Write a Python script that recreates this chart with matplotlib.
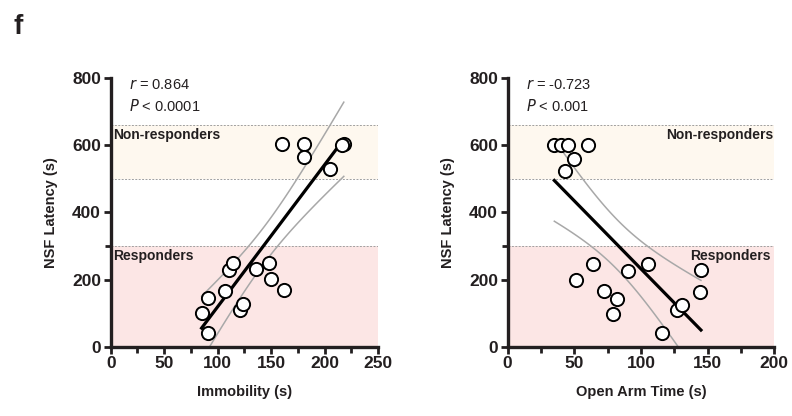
import matplotlib.pyplot as plt
import numpy as np

plt.rcParams['font.family'] = ['Liberation Sans', 'DejaVu Sans']

# NSF latency vs immobility (left) and open arm time (right)
immobility = [85, 91, 91, 107, 111, 114, 121, 124, 136, 148, 150, 162,
              160, 181, 181, 218, 205, 216]
latency_l = [100, 40, 144, 167, 229, 249, 110, 127, 232, 249, 201, 169,
             604, 604, 565, 604, 530, 600]

open_arm = [35, 40, 45, 60, 50, 43, 51, 64, 72, 82, 79, 90, 105, 116,
            127, 131, 145, 144]
latency_r = [600, 600, 600, 600, 560, 522, 198, 246, 166, 142, 98, 226,
             246, 40, 110, 125, 227, 164]

stats_l = ['0.864', '0.0001']
stats_r = ['-0.723', '0.001']

dark = '#231f20'


def fit_with_ci(x, y):
    x = np.asarray(x, float)
    y = np.asarray(y, float)
    n = len(x)
    b, a = np.polyfit(x, y, 1)
    res = y - (a + b * x)
    s = np.sqrt(np.sum(res ** 2) / (n - 2))
    sxx = np.sum((x - x.mean()) ** 2)
    xs = np.linspace(x.min(), x.max(), 100)
    yh = a + b * xs
    t = 2.12  # t(0.975, df=16)
    h = t * s * np.sqrt(1.0 / n + (xs - x.mean()) ** 2 / sxx)
    return xs, yh, yh - h, yh + h


def panel(ax, x, y, xmax, xlabel, stats, label_right):
    ax.axhspan(500, 660, color='#fef8ef', zorder=0, lw=0)
    ax.axhspan(0, 300, color='#fce6e5', zorder=0, lw=0)
    for yy in (500, 660, 300):
        ax.axhline(yy, color='#a0a0a0', lw=0.7, ls=(0, (2, 1.5)), zorder=1)

    xs, yh, lo, hi = fit_with_ci(x, y)
    ax.plot(xs, lo, color='#a8a8a8', lw=1.1, zorder=2)
    ax.plot(xs, hi, color='#a8a8a8', lw=1.1, zorder=2)
    ax.plot(xs, yh, color='black', lw=2.3, zorder=3)
    ax.plot(x, y, 'o', ms=9.5, mfc='white', mec='black', mew=1.4,
            zorder=4, clip_on=False)

    ax.set_xlim(0, xmax)
    ax.set_ylim(0, 800)
    ax.set_xticks(np.arange(0, xmax + 1, 50))
    ax.set_xticks(np.arange(25, xmax, 50), minor=True)
    ax.set_yticks([0, 200, 400, 600, 800])
    ax.set_yticks([300], minor=True)
    ax.tick_params(which='both', width=2, color=dark, length=5,
                   labelsize=12.5, labelcolor=dark, pad=2)
    ax.tick_params(which='minor', length=4)
    for lab in ax.get_xticklabels() + ax.get_yticklabels():
        lab.set_fontweight('bold')
    for side in ('top', 'right'):
        ax.spines[side].set_visible(False)
    for side in ('left', 'bottom'):
        ax.spines[side].set_linewidth(2.4)
        ax.spines[side].set_color(dark)
    ax.set_xlabel(xlabel, fontsize=10.5, fontweight='bold', color=dark,
                  labelpad=10)
    ax.set_ylabel('NSF Latency (s)', fontsize=10.5, fontweight='bold',
                  color=dark, labelpad=10)

    tx = xmax * 0.07
    ax.text(tx, 778, r'$\it{r}$ = ' + stats[0], fontsize=10.5, va='center',
            color=dark)
    ax.text(tx, 716, r'$\it{P}$ < ' + stats[1], fontsize=10.5, va='center',
            color=dark)

    if label_right:
        ax.text(xmax * 0.995, 652, 'Non-responders', ha='right', va='top',
                fontsize=10, fontweight='bold', color=dark)
        ax.text(xmax * 0.985, 292, 'Responders', ha='right', va='top',
                fontsize=10, fontweight='bold', color=dark)
    else:
        ax.text(xmax * 0.01, 652, 'Non-responders', ha='left', va='top',
                fontsize=10, fontweight='bold', color=dark)
        ax.text(xmax * 0.01, 292, 'Responders', ha='left', va='top',
                fontsize=10, fontweight='bold', color=dark)


fig = plt.figure(figsize=(7.92, 4.16), dpi=100)
ax1 = fig.add_axes([0.1398, 0.1666, 0.3375, 0.646])
ax2 = fig.add_axes([0.641, 0.1666, 0.3366, 0.646])

panel(ax1, immobility, latency_l, 250, 'Immobility (s)', stats_l, False)
panel(ax2, open_arm, latency_r, 200, 'Open Arm Time (s)', stats_r, True)

fig.text(0.017, 0.935, 'f', fontsize=20, fontweight='bold', color=dark,
         va='center')

fig.savefig('out.png', dpi=100)
